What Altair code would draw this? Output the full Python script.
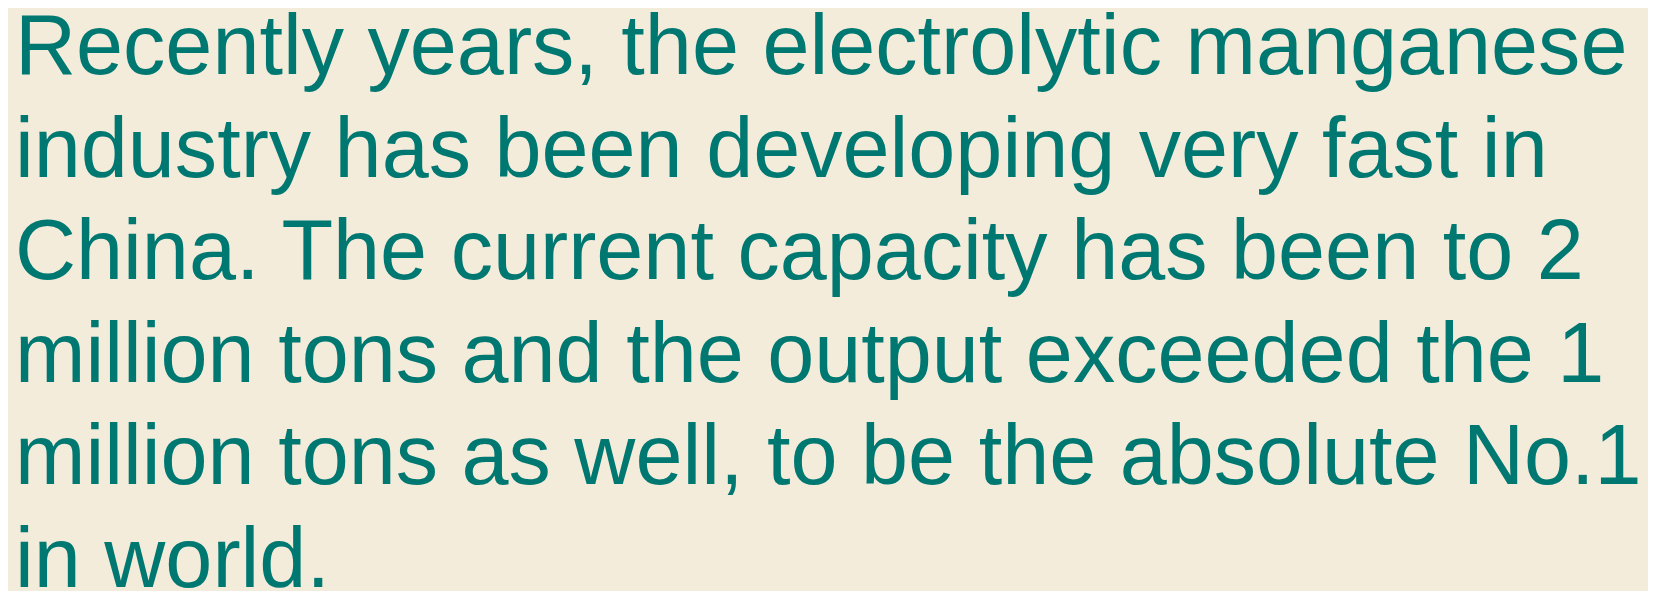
import altair as alt
import pandas as pd

lines = [
    "Recently years, the electrolytic manganese",
    "industry has been developing very fast in",
    "China. The current capacity has been to 2",
    "million tons and the output exceeded the 1",
    "million tons as well, to be the absolute No.1",
    "in world.",
]
line_no = list(range(len(lines)))

df = pd.DataFrame({"line": line_no, "text": lines, "x": [0] * len(lines)})

W, H = 1648, 583

chart = (
    alt.Chart(df)
    .mark_text(
        align="left",
        baseline="alphabetic",
        font="Liberation Sans",
        fontSize=85,
        color="#007872",
    )
    .encode(
        x=alt.X("x:Q", scale=alt.Scale(domain=[0, 1], range=[7, W]), axis=None),
        y=alt.Y("line:Q", scale=alt.Scale(domain=[0, 5], range=[65, 580]), axis=None),
        text="text:N",
    )
    .properties(width=W, height=H, background="#F4ECDA", padding=0,
                autosize=alt.AutoSizeParams(type="none"))
    .configure_view(stroke=None)
)

chart.save("out.html", embed_options={"renderer": "svg", "actions": False})
